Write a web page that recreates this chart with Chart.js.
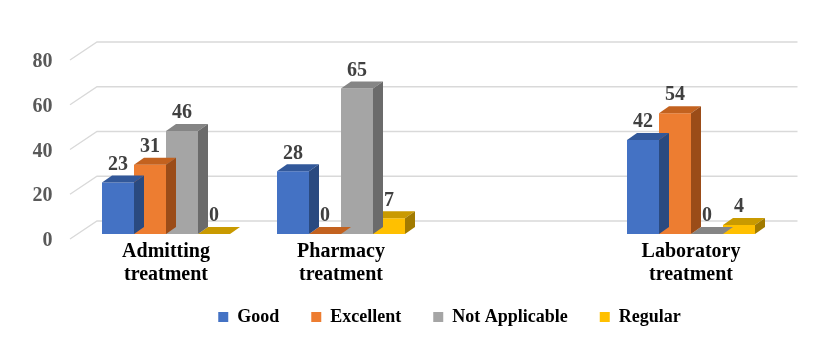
<!DOCTYPE html>
<html><head><meta charset="utf-8">
<script src="https://cdn.jsdelivr.net/npm/chart.js@4"></script>
<style>html,body{margin:0;padding:0;background:#fff}</style>
</head><body>
<canvas id="c" width="832" height="356"></canvas>
<script>
const categories = [["Admitting","treatment"],["Pharmacy","treatment"],"",["Laboratory","treatment"]];
const seriesNames = ["Good","Excellent","Not Applicable","Regular"];
const good = [23,28,null,42];
const excellent = [31,0,null,54];
const notApplicable = [46,65,null,0];
const regular = [0,7,null,4];
const yTicks = [0,20,40,60,80];

const frontColors = ["#4472C4","#ED7D31","#A5A5A5","#FFC000"];
const topColors = ["#32589A","#C3621F","#858585","#C99A00"];
const sideColors = ["#2A4A80","#9B4C18","#6B6B6B","#A27B00"];
const FONT = "'Liberation Serif','Times New Roman',serif";
const DX = 10, DY = 7;

const grid3d = {
  id: 'grid3d',
  beforeDatasetsDraw(chart) {
    const {ctx, chartArea: ca, scales: {y}} = chart;
    ctx.save();
    ctx.strokeStyle = '#D9D9D9';
    ctx.lineWidth = 1.3;
    yTicks.forEach(v => {
      const py = y.getPixelForValue(v);
      ctx.beginPath();
      ctx.moveTo(ca.left - 8.5, py + 5);
      ctx.lineTo(ca.left + 18.5, py - 13);
      ctx.lineTo(ca.right + 19, py - 13);
      ctx.stroke();
    });
    ctx.restore();
  }
};

const bars3d = {
  id: 'bars3d',
  afterDatasetDraw(chart, args) {
    const i = args.index, meta = args.meta, ctx = chart.ctx;
    const data = chart.data.datasets[i].data;
    ctx.save();
    meta.data.forEach((bar, j) => {
      const v = data[j];
      if (v === null || v === undefined) return;
      const p = bar.getProps(['x','y','width','base'], true);
      const x0 = p.x - p.width/2, x1 = p.x + p.width/2;
      ctx.fillStyle = topColors[i];
      ctx.beginPath();
      ctx.moveTo(x0, p.y); ctx.lineTo(x0+DX, p.y-DY); ctx.lineTo(x1+DX, p.y-DY); ctx.lineTo(x1, p.y);
      ctx.closePath(); ctx.fill();
      if (p.base - p.y > 0.5) {
        ctx.fillStyle = sideColors[i];
        ctx.beginPath();
        ctx.moveTo(x1, p.y); ctx.lineTo(x1+DX, p.y-DY); ctx.lineTo(x1+DX, p.base-DY); ctx.lineTo(x1, p.base);
        ctx.closePath(); ctx.fill();
      }
    });
    ctx.restore();
  },
  afterDatasetsDraw(chart) {
    const ctx = chart.ctx;
    ctx.save();
    ctx.font = "bold 20px " + FONT;
    ctx.fillStyle = '#404040';
    ctx.textAlign = 'center';
    ctx.textBaseline = 'middle';
    chart.data.datasets.forEach((ds, i) => {
      chart.getDatasetMeta(i).data.forEach((bar, j) => {
        const v = ds.data[j];
        if (v === null || v === undefined) return;
        const p = bar.getProps(['x','y'], true);
        ctx.fillText(String(v), p.x, p.y - 18);
      });
    });
    ctx.restore();
  }
};

const legendShift = {
  id: 'legendShift',
  afterLayout(chart) {
    const lg = chart.legend;
    lg.left += 44; lg.right += 44;
    lg.top -= 14; lg.bottom -= 14;
  }
};

new Chart(document.getElementById('c'), {
  type: 'bar',
  data: {
    labels: categories,
    datasets: [good, excellent, notApplicable, regular].map((d, i) => ({
      label: seriesNames[i],
      data: d,
      backgroundColor: frontColors[i],
      borderWidth: 0,
      categoryPercentage: 0.7314,
      barPercentage: 1.0
    }))
  },
  options: {
    responsive: false,
    animation: false,
    layout: { padding: { left: 32.5, right: 53.5, top: 55, bottom: 6 } },
    plugins: {
      tooltip: { enabled: false },
      legend: {
        position: 'bottom',
        labels: {
          boxWidth: 10, boxHeight: 10, padding: 32,
          color: '#000',
          font: { family: FONT, size: 18, weight: 'bold' }
        }
      }
    },
    scales: {
      x: {
        grid: { display: false, drawTicks: false },
        border: { display: false },
        ticks: { color: '#000', padding: 6.5, maxRotation: 0, autoSkip: false,
          font: { family: FONT, size: 20, weight: 'bold', lineHeight: 1.15 } },
        afterFit(s) { s.height = 56; }
      },
      y: {
        min: 0, max: 80,
        grid: { display: false, drawTicks: false },
        border: { display: false },
        afterBuildTicks(s) { s.ticks = yTicks.map(v => ({ value: v })); },
        ticks: { color: '#595959', padding: 26, labelOffset: 7,
          font: { family: FONT, size: 20, weight: 'bold' } },
        afterFit(s) { s.width = 46; }
      }
    }
  },
  plugins: [grid3d, bars3d, legendShift]
});
</script>
</body></html>
